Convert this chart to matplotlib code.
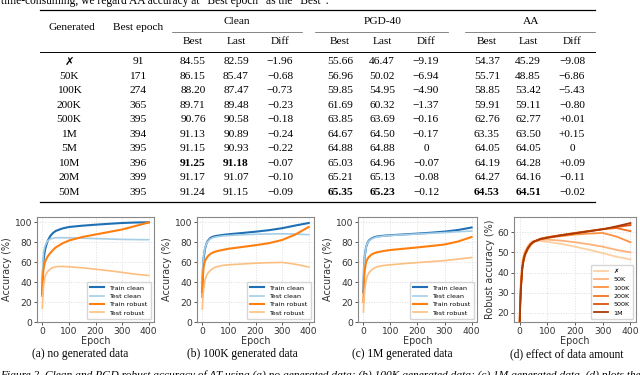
import matplotlib
matplotlib.use("Agg")
import matplotlib.pyplot as plt
from matplotlib.lines import Line2D

W, H = 640, 375
SERIF = ["Liberation Serif", "DejaVu Serif"]
MARK = ["Liberation Serif", "DejaVu Sans"]

# ---- table data ----
generated = ["\u2717", "50K", "100K", "200K", "500K", "1M", "5M", "10M", "20M", "50M"]
best_epoch = [91, 171, 274, 365, 395, 394, 395, 396, 399, 395]
clean_best = [84.55, 86.15, 88.20, 89.71, 90.76, 91.13, 91.15, 91.25, 91.17, 91.24]
clean_last = [82.59, 85.47, 87.47, 89.48, 90.58, 90.89, 90.93, 91.18, 91.07, 91.15]
clean_diff = ["\u22121.96", "\u22120.68", "\u22120.73", "\u22120.23", "\u22120.18",
              "\u22120.24", "\u22120.22", "\u22120.07", "\u22120.10", "\u22120.09"]
pgd_best = [55.66, 56.96, 59.85, 61.69, 63.85, 64.67, 64.88, 65.03, 65.21, 65.35]
pgd_last = [46.47, 50.02, 54.95, 60.32, 63.69, 64.50, 64.88, 64.96, 65.13, 65.23]
pgd_diff = ["\u22129.19", "\u22126.94", "\u22124.90", "\u22121.37", "\u22120.16",
            "\u22120.17", "0", "\u22120.07", "\u22120.08", "\u22120.12"]
aa_best = [54.37, 55.71, 58.85, 59.91, 62.76, 63.35, 64.05, 64.19, 64.27, 64.53]
aa_last = [45.29, 48.85, 53.42, 59.11, 62.77, 63.50, 64.05, 64.28, 64.16, 64.51]
aa_diff = ["\u22129.08", "\u22126.86", "\u22125.43", "\u22120.80", "+0.01",
           "+0.15", "0", "+0.09", "\u22120.11", "\u22120.02"]
bold_cells = {(7, "clean"), (9, "pgd"), (9, "aa")}

# ---- curve data ----
epochs = [0, 2, 5, 10, 15, 20, 30, 40, 50, 75, 100, 150, 200, 250, 300, 350, 400]

train_clean_a = [28, 50, 63, 72, 77, 81, 86, 89, 91, 93.5, 95, 96.3, 97.3, 98.2, 99, 99.5, 99.7]
test_clean_a = [38, 60, 70, 76, 79, 81, 83, 83.8, 84.2, 84.3, 84.2, 83.8, 83.4, 83, 82.6, 82.4, 82.3]
train_robust_a = [26, 45, 54, 60, 63, 65.5, 69, 72, 74.5, 78.5, 81.5, 85, 87.5, 90, 92.5, 96, 99.5]
test_robust_a = [14, 27, 37, 45, 48.5, 50.5, 53, 54.5, 55.3, 55.6, 55.2, 54.2, 52.8, 51.3, 49.6, 47.8, 46.5]

train_clean_b = [30, 52, 64, 73, 78, 81, 84, 85.3, 86, 87, 87.8, 89, 90.3, 91.8, 93.8, 96.5, 99]
test_clean_b = [35, 55, 66, 74, 78, 80.5, 83, 84.3, 85, 86, 86.5, 87.2, 87.7, 88, 88.2, 88, 87.3]
train_robust_b = [25, 45, 55, 61, 63.5, 65.5, 68, 69.5, 70.5, 72, 73.3, 75, 76.8, 78.8, 82, 87.5, 95]
test_robust_b = [13, 24, 33, 42, 46, 48.5, 51.5, 53.5, 55, 56.5, 57.2, 58, 58.8, 59.3, 59.6, 57.8, 55]

train_clean_c = [30, 54, 66, 75, 79, 81.5, 83.5, 84.8, 85.5, 86.3, 86.8, 87.6, 88.4, 89.3, 90.4, 92, 94.5]
test_clean_c = [33, 55, 66, 75, 79, 81, 83, 84.3, 85, 86, 86.6, 87.3, 88, 88.7, 89.4, 90.2, 91]
train_robust_c = [20, 42, 52, 60, 63, 65, 67.5, 68.8, 69.7, 71, 72, 73.3, 74.6, 76, 77.5, 80.5, 85]
test_robust_c = [10, 22, 32, 42, 46.5, 49, 52, 54, 55.2, 56.5, 57.2, 58.4, 59.4, 60.4, 61.4, 62.9, 64.5]

robust_50k = [14, 26, 36, 44.5, 48, 50.5, 53, 54.8, 55.6, 56.2, 56.3, 55.8, 55, 54, 52.8, 51.2, 50]
robust_200k = [13, 24, 34, 43, 47, 49.5, 52, 54, 55.2, 56.7, 57.5, 58.6, 59.6, 60.6, 61.5, 62, 60.5]
robust_500k = [12, 23, 33, 42.5, 46.8, 49.2, 52, 54, 55.2, 56.7, 57.4, 58.5, 59.5, 60.5, 61.5, 62.5, 63.5]

amount_labels = ["\u2717", "50K", "100K", "200K", "500K", "1M"]
amount_curves = [test_robust_a, robust_50k, test_robust_b, robust_200k, robust_500k, test_robust_c]
amount_colors = ["#fdd0a2", "#fdb27a", "#fd9243", "#f3731f", "#dd520a", "#a83a05"]

series_labels = ["Train clean", "Test clean", "Train robust", "Test robust"]
series_colors = ["#1f6fb4", "#a6cde6", "#ff7f0e", "#fdbf80"]
series_widths = [1.5, 1.2, 1.5, 1.2]

subcaptions = ["(a) no generated data", "(b) 100K generated data",
               "(c) 1M generated data", "(d) effect of data amount"]


def fx(px):
    return px / W


def fy(py):
    return 1 - py / H


def hline(fig, x0, x1, y, lw, color="black"):
    fig.add_artist(Line2D([fx(x0), fx(x1)], [fy(y), fy(y)], lw=lw,
                          color=color, transform=fig.transFigure))


def style_axis(axis):
    for spine in axis.spines.values():
        spine.set_color("#888888")
        spine.set_linewidth(0.8)
    axis.grid(True, color="#dddddd", linestyle=":", linewidth=0.7)
    axis.set_axisbelow(True)
    axis.tick_params(labelsize=6.6, length=2.5, width=0.7, color="#555555",
                     labelcolor="#333333", pad=1)
    axis.set_xticks([0, 100, 200, 300, 400])
    axis.set_xlabel("Epoch", fontsize=6.9, color="#333333", labelpad=0)


def small_legend(axis, **extra):
    axis.legend(loc="lower right", fontsize=4.6, labelspacing=0.45, borderpad=0.5,
                handlelength=2.2, handletextpad=0.8, borderaxespad=0.5,
                edgecolor="#cccccc", fancybox=True, **extra)


fig = plt.figure(figsize=(W / 100, H / 100), dpi=100)

# top text line (cut off by the crop)
fig.text(fx(1), fy(4),
         "time-consuming, we regard AA accuracy at \u201cBest epoch\u201d as the \u201cBest\u201d.",
         fontsize=8.3, family=SERIF, ha="left", va="baseline")

# ---- table ----
fs = 8.2
hline(fig, 40, 595, 10, 0.9)
hline(fig, 40, 595, 52, 0.7)
hline(fig, 40, 595, 202, 0.9)
for x0, x1 in [(172, 302), (315, 448), (465, 595)]:
    hline(fig, x0, x1, 32, 0.5, "#555555")

fig.text(fx(72), fy(27), "Generated", fontsize=fs, family=SERIF, ha="center", va="center")
fig.text(fx(138), fy(27), "Best epoch", fontsize=fs, family=SERIF, ha="center", va="center")
groups = [("Clean", 237, [193, 236, 280]), ("PGD-40", 383, [340, 382, 426]),
          ("AA", 531, [487, 528, 572])]
for name, cx, cols in groups:
    fig.text(fx(cx), fy(21), name, fontsize=fs, family=SERIF, ha="center", va="center")
    for sub, x in zip(["Best", "Last", "Diff"], cols):
        fig.text(fx(x), fy(42), sub, fontsize=fs, family=SERIF, ha="center", va="center")

row_y0, row_step = 62, 14.45
for i in range(len(generated)):
    y = row_y0 + i * row_step
    fig.text(fx(69), fy(y), generated[i], fontsize=fs, family=MARK,
             ha="center", va="center")
    fig.text(fx(138), fy(y), str(best_epoch[i]), fontsize=fs, family=SERIF,
             ha="center", va="center")
    cells = [("clean", clean_best, clean_last, clean_diff, groups[0][2]),
             ("pgd", pgd_best, pgd_last, pgd_diff, groups[1][2]),
             ("aa", aa_best, aa_last, aa_diff, groups[2][2])]
    for key, best, last, diff, cols in cells:
        weight = "bold" if (i, key) in bold_cells else "normal"
        fig.text(fx(cols[0]), fy(y), "%.2f" % best[i], fontsize=fs, family=SERIF,
                 ha="center", va="center", fontweight=weight)
        fig.text(fx(cols[1]), fy(y), "%.2f" % last[i], fontsize=fs, family=SERIF,
                 ha="center", va="center", fontweight=weight)
        fig.text(fx(cols[2]), fy(y), diff[i], fontsize=fs, family=SERIF,
                 ha="center", va="center")

# ---- plots ----
boxes = [(37, 154), (197, 314), (358, 477), (514, 636)]
top, bottom = 217, 322
axes = []
for x0, x1 in boxes:
    axes.append(fig.add_axes([fx(x0), fy(bottom), (x1 - x0) / W, (bottom - top) / H]))

curve_sets = [
    [train_clean_a, test_clean_a, train_robust_a, test_robust_a],
    [train_clean_b, test_clean_b, train_robust_b, test_robust_b],
    [train_clean_c, test_clean_c, train_robust_c, test_robust_c],
]
for axis, curves in zip(axes[:3], curve_sets):
    for vals, label, color, lw in zip(curves, series_labels, series_colors, series_widths):
        axis.plot(epochs, vals, color=color, lw=lw, label=label)
    style_axis(axis)
    axis.set_ylim(0, 105)
    axis.set_yticks([0, 20, 40, 60, 80, 100])
    axis.set_ylabel("Accuracy (%)", fontsize=6.9, color="#333333", labelpad=2)
    small_legend(axis)

ax_d = axes[3]
for vals, label, color in zip(amount_curves, amount_labels, amount_colors):
    ax_d.plot(epochs, vals, color=color, lw=1.3, label=label)
style_axis(ax_d)
ax_d.set_ylim(15.5, 67.5)
ax_d.set_yticks([20, 30, 40, 50, 60])
ax_d.set_ylabel("Robust accuracy (%)", fontsize=6.9, color="#333333", labelpad=2)
small_legend(ax_d, prop={"family": ["DejaVu Sans"], "size": 4.6})

for cx, text in zip([80, 242, 402, 567], subcaptions):
    fig.text(fx(cx), fy(354), text, fontsize=8.3, family=SERIF, ha="center", va="center")

fig.text(fx(0), fy(370),
         "Figure 2. Clean and PGD robust accuracy of AT using (a) no generated data; "
         "(b) 100K generated data; (c) 1M generated data. (d) plots the",
         fontsize=8.2, family=SERIF, style="italic", ha="left", va="top")

fig.savefig("out.png", dpi=100)
